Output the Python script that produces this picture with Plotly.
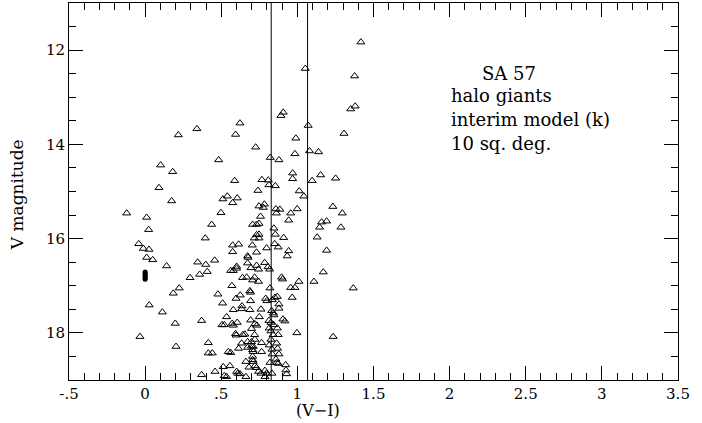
import plotly.graph_objects as go

# (V-I) colour and V magnitude of the model halo giants
vi = [
 1.417, 1.052, 1.376, 1.380, 1.350, 0.907, 0.892, 0.623, 1.071, 0.340,
 0.218, 0.594, 1.306, 0.990, 0.726, 0.822, 1.080, 1.139, 0.984, 0.879,
 0.483, 0.102, 0.181, 0.969, 0.969, 1.153, 1.251, 1.097, 0.588, 0.767,
 0.809, 0.813, 0.855, 0.091, 0.741, 1.012, 1.043, 0.174, 0.511, 0.540,
 0.575, 0.605, 0.748, 0.783, 0.776, 0.859, 0.885, 0.999, 1.233,
 -0.121, 0.010, 0.023, 0.498, 0.862, 0.956, 1.295, 0.758, 0.943, 0.437,
 0.706, 0.732, 0.748, 1.159, 1.192, 1.146, 1.286, 0.846, 0.395, 0.732,
 0.748, 0.717, 0.748, 0.855, 0.910, 1.130, -0.042, -0.012, 0.025, 0.575,
 0.614, 0.575, 0.704, 0.798, 0.851, 0.874, 0.732, 0.943, 0.933, 1.192,
 0.010, 0.050, 0.141, 0.345, 0.398, 0.408, 0.358, 0.457, 0.295, 0.185,
 0.224, 0.027, 0.113, 0.198, -0.034, 0.203,
 0.601, 0.601, 0.562, 0.579, 0.640, 0.667, 0.673, 0.676, 0.673, 0.732,
 0.745, 0.695, 0.785, 0.807, 0.818, 0.719, 0.745, 0.706, 0.896, 0.903,
 1.010, 0.956, 0.984, 1.109, 1.170, 1.367, 0.966, 0.570, 0.597, 0.478,
 0.509, 0.625, 0.688, 0.692, 0.693, 0.820, 0.792, 0.800, 0.835, 0.853,
 0.868, 0.636, 0.634, 0.579, 0.688, 0.761, 0.831, 0.842, 0.846, 0.879,
 0.879, 0.535, 0.505, 0.520, 0.572, 0.579, 0.605, 0.371, 0.693, 0.750,
 0.721, 0.734, 0.813, 0.826, 0.844, 0.868, 0.905, 0.918, 0.594, 0.598,
 0.642, 0.655, 0.699, 0.719, 0.815, 0.826, 0.841, 0.874, 0.997, 1.235,
 0.415, 0.415, 0.441, 0.546, 0.562, 0.614, 0.634, 0.673, 0.699, 0.673,
 0.699, 0.710, 0.706, 0.710, 0.721, 0.765, 0.765, 0.815, 0.826, 0.833,
 0.835, 0.864, 0.870, 0.879, 0.864, 0.706, 0.710, 0.706, 0.820, 0.662,
 0.459, 0.371, 0.513, 0.557, 0.520, 0.535, 0.601, 0.608, 0.623, 0.662,
 0.682, 0.721, 0.732, 0.745, 0.761, 0.787, 0.798, 0.833, 0.859, 0.874,
 0.923, 0.925, 0.929, 0.787,
]
vmag = [
 11.83, 12.39, 12.55, 13.19, 13.25, 13.32, 13.39, 13.55, 13.60, 13.67,
 13.80, 13.79, 13.77, 13.87, 14.06, 14.28, 14.14, 14.16, 14.20, 14.33,
 14.33, 14.44, 14.58, 14.61, 14.73, 14.65, 14.72, 14.77, 14.77, 14.75,
 14.76, 14.86, 14.88, 14.92, 14.98, 14.99, 15.10, 15.20, 15.16, 15.10,
 15.24, 15.14, 15.31, 15.27, 15.34, 15.37, 15.38, 15.37, 15.32,
 15.46, 15.55, 15.81, 15.45, 15.46, 15.46, 15.46, 15.53, 15.61, 15.70,
 15.70, 15.70, 15.68, 15.65, 15.63, 15.76, 15.76, 15.78, 15.99, 15.92,
 15.91, 15.99, 15.99, 15.91, 15.98, 15.97, 16.11, 16.21, 16.23, 16.14,
 16.12, 16.28, 16.14, 16.20, 16.11, 16.18, 16.29, 16.26, 16.37, 16.25,
 16.40, 16.45, 16.58, 16.50, 16.55, 16.70, 16.76, 16.46, 16.83, 17.16,
 17.05, 17.41, 17.56, 17.80, 18.08, 18.29,
 16.59, 16.63, 16.68, 16.68, 16.83, 16.82, 16.37, 16.40, 16.52, 16.57,
 16.65, 16.62, 16.51, 16.60, 16.65, 16.82, 16.91, 16.88, 16.82, 16.86,
 16.91, 17.04, 17.04, 16.91, 16.71, 17.05, 17.25, 17.00, 17.27, 17.18,
 17.37, 17.20, 17.11, 17.14, 17.32, 17.05, 17.27, 17.32, 17.30, 17.25,
 17.23, 17.43, 17.49, 17.51, 17.51, 17.50, 17.53, 17.58, 17.62, 17.39,
 17.48, 17.66, 17.83, 17.83, 17.80, 17.84, 17.78, 17.74, 17.73, 17.66,
 17.81, 17.84, 17.74, 17.78, 17.83, 17.90, 17.71, 17.75, 18.02, 18.05,
 18.04, 18.03, 17.91, 18.04, 17.90, 17.96, 18.04, 18.04, 18.00, 18.08,
 18.21, 18.43, 18.43, 18.40, 18.42, 18.33, 18.22, 18.19, 18.19, 18.31,
 18.28, 18.29, 18.36, 18.40, 18.14, 18.21, 18.40, 18.26, 18.14, 18.35,
 18.45, 18.22, 18.33, 18.45, 18.63, 18.50, 18.61, 18.57, 18.63, 18.61,
 18.82, 18.89, 18.72, 18.70, 18.91, 18.93, 18.82, 18.86, 18.87, 18.93,
 18.73, 18.70, 18.74, 18.82, 18.86, 18.80, 18.86, 18.86, 18.56, 18.65,
 18.68, 18.79, 18.87, 18.93,
]

# the dense clump of stars plotted at (V-I) = 0 (drawn as a filled blob)
clump_vi = [0.0, 0.0, 0.0, 0.0, 0.0, 0.0]
clump_vmag = [16.71, 16.74, 16.77, 16.80, 16.83, 16.86]

# colour cuts (vertical lines)
cuts = [0.828, 1.067]

x_tickvals = [-0.5, 0, 0.5, 1, 1.5, 2, 2.5, 3, 3.5]
x_ticktext = ["-.5", "0", ".5", "1", "1.5", "2", "2.5", "3", "3.5"]
y_tickvals = [12, 14, 16, 18]

label_lines = ["SA 57", "halo giants", "interim model (k)", "10 sq. deg."]

FONT = "DejaVu Serif"

fig = go.Figure()
fig.add_trace(go.Scatter(
    x=vi, y=vmag, mode="markers",
    marker=dict(symbol="triangle-up-open", size=7, color="black",
                line=dict(width=1, color="black")),
    showlegend=False, hoverinfo="skip"))
fig.add_trace(go.Scatter(
    x=clump_vi, y=clump_vmag, mode="markers",
    marker=dict(symbol="circle", size=5, color="black"),
    showlegend=False, hoverinfo="skip"))

for c in cuts:
    fig.add_trace(go.Scatter(x=[c, c], y=[11, 19], mode="lines",
                             line=dict(color="black", width=1),
                             showlegend=False, hoverinfo="skip"))

axis_common = dict(
    showgrid=False, zeroline=False, showline=True, linecolor="black",
    linewidth=1, mirror="allticks", ticks="inside", tickcolor="black",
    tickwidth=1, ticklen=14,
    tickfont=dict(family=FONT, size=15, color="black"),
)
fig.update_xaxes(range=[-0.5, 3.5], tickvals=x_tickvals, ticktext=x_ticktext,
                 minor=dict(ticks="inside", dtick=0.1, tick0=0, ticklen=7,
                            tickcolor="black", tickwidth=1),
                 **axis_common)
fig.update_yaxes(range=[19, 11], tickvals=y_tickvals,
                 minor=dict(ticks="inside", dtick=0.5, tick0=0, ticklen=7,
                            tickcolor="black", tickwidth=1),
                 **axis_common)

# text block
ys = [12.49, 12.97, 13.48, 13.99]
xs = [2.199, 1.995, 1.995, 1.995]
for t, xx, yy in zip(label_lines, xs, ys):
    fig.add_annotation(x=xx, y=yy, text=t, showarrow=False, xanchor="left",
                       yanchor="middle", font=dict(family=FONT, size=18, color="black"))

fig.add_annotation(text="(V\u2212I)", x=1.135, y=0, xref="x", yref="paper",
                   yshift=-30, yanchor="middle", showarrow=False,
                   font=dict(family=FONT, size=16, color="black"))
fig.add_annotation(text="V magnitude", x=0, xref="paper", y=0.49, yref="paper",
                   xshift=-40, xanchor="right", showarrow=False, textangle=-90,
                   font=dict(family=FONT, size=17, color="black"))

fig.update_layout(width=702, height=423, plot_bgcolor="white", paper_bgcolor="white",
                  margin=dict(l=69, r=24, t=3, b=43))
fig.write_html("out.html")
